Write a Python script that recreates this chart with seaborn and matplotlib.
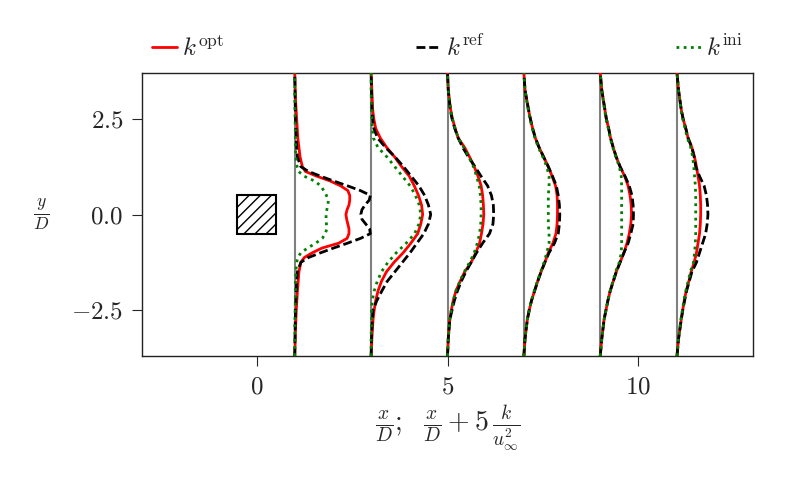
import matplotlib
matplotlib.use("Agg")
import matplotlib.pyplot as plt
import numpy as np
import pandas as pd
import seaborn as sns
from matplotlib.patches import Rectangle

# stations x/D where the k profiles are sampled
stations = [1, 3, 5, 7, 9, 11]

# y/D sample points (finer one for the first station just behind the cylinder)
y_near = [-3.7, -3.0, -2.5, -2.0, -1.75, -1.5, -1.25, -1.125, -1.0, -0.875, -0.75,
          -0.625, -0.5, -0.375, -0.25, -0.125, 0.0, 0.125, 0.25, 0.375, 0.5, 0.625,
          0.75, 0.875, 1.0, 1.125, 1.25, 1.5, 1.75, 2.0, 2.5, 3.0, 3.7]
y_far = [-3.7, -3.25, -2.75, -2.5, -2.25, -2.0, -1.75, -1.5, -1.25, -1.0, -0.75, -0.5,
         -0.25, 0.0, 0.25, 0.5, 0.75, 1.0, 1.25, 1.5, 1.75, 2.0, 2.25, 2.5, 2.75, 3.25, 3.7]

# 5 k / u_inf^2, one list per station
k_opt = {
    1: [0.0, 0.02, 0.04, 0.07, 0.09, 0.11, 0.16, 0.25, 0.46, 0.72, 1.15, 1.37, 1.42, 1.42,
        1.39, 1.36, 1.34, 1.37, 1.42, 1.44, 1.44, 1.39, 1.2, 0.93, 0.58, 0.28, 0.2, 0.14,
        0.11, 0.08, 0.05, 0.02, 0.0],
    3: [0.0, 0.02, 0.05, 0.08, 0.12, 0.18, 0.27, 0.4, 0.6, 0.84, 1.04, 1.22, 1.3, 1.35,
        1.32, 1.24, 1.13, 1.0, 0.8, 0.62, 0.41, 0.24, 0.12, 0.07, 0.04, 0.02, 0.0],
    5: [0.0, 0.02, 0.06, 0.1, 0.15, 0.22, 0.33, 0.45, 0.62, 0.74, 0.84, 0.89, 0.93, 0.95,
        0.94, 0.92, 0.88, 0.8, 0.7, 0.58, 0.45, 0.28, 0.2, 0.13, 0.08, 0.02, 0.0],
    7: [0.0, 0.03, 0.09, 0.14, 0.2, 0.28, 0.36, 0.45, 0.55, 0.64, 0.76, 0.84, 0.87, 0.88,
        0.88, 0.87, 0.83, 0.74, 0.64, 0.52, 0.4, 0.3, 0.23, 0.17, 0.12, 0.03, 0.0],
    9: [0.0, 0.04, 0.1, 0.15, 0.2, 0.26, 0.34, 0.42, 0.52, 0.62, 0.7, 0.76, 0.8, 0.82,
        0.81, 0.78, 0.73, 0.64, 0.52, 0.42, 0.34, 0.27, 0.22, 0.16, 0.12, 0.04, 0.0],
    11: [0.01, 0.05, 0.12, 0.16, 0.2, 0.25, 0.32, 0.38, 0.46, 0.52, 0.56, 0.6, 0.62, 0.63,
         0.63, 0.62, 0.6, 0.56, 0.52, 0.47, 0.4, 0.3, 0.24, 0.17, 0.12, 0.05, 0.01],
}
k_ref = {
    1: [0.0, 0.01, 0.02, 0.04, 0.05, 0.07, 0.16, 0.36, 0.68, 1.02, 1.38, 1.72, 1.98, 1.96,
        1.86, 1.76, 1.73, 1.76, 1.84, 1.95, 1.98, 1.72, 1.38, 1.02, 0.68, 0.36, 0.16, 0.07,
        0.05, 0.04, 0.02, 0.01, 0.0],
    3: [0.0, 0.01, 0.03, 0.05, 0.15, 0.28, 0.42, 0.62, 0.82, 1.02, 1.2, 1.38, 1.5, 1.56,
        1.5, 1.4, 1.25, 1.05, 0.85, 0.63, 0.38, 0.17, 0.07, 0.04, 0.02, 0.01, 0.0],
    5: [0.0, 0.02, 0.06, 0.12, 0.18, 0.26, 0.36, 0.48, 0.62, 0.76, 0.92, 1.1, 1.19, 1.21,
        1.2, 1.15, 1.05, 0.88, 0.72, 0.55, 0.4, 0.28, 0.19, 0.12, 0.07, 0.02, 0.0],
    7: [0.0, 0.03, 0.09, 0.14, 0.2, 0.28, 0.36, 0.45, 0.55, 0.66, 0.8, 0.9, 0.93, 0.94,
        0.93, 0.9, 0.85, 0.75, 0.64, 0.52, 0.4, 0.3, 0.23, 0.17, 0.12, 0.03, 0.0],
    9: [0.0, 0.04, 0.1, 0.15, 0.2, 0.26, 0.34, 0.42, 0.52, 0.62, 0.73, 0.8, 0.86, 0.87,
        0.86, 0.83, 0.76, 0.65, 0.52, 0.42, 0.34, 0.27, 0.22, 0.16, 0.12, 0.04, 0.0],
    11: [0.01, 0.05, 0.12, 0.16, 0.21, 0.26, 0.33, 0.4, 0.52, 0.6, 0.68, 0.76, 0.8, 0.82,
         0.81, 0.78, 0.72, 0.6, 0.5, 0.46, 0.4, 0.3, 0.24, 0.17, 0.12, 0.05, 0.01],
}
k_ini = {
    1: [0.0, 0.0, 0.01, 0.02, 0.02, 0.03, 0.05, 0.08, 0.16, 0.34, 0.55, 0.72, 0.8, 0.84,
        0.83, 0.82, 0.82, 0.84, 0.87, 0.88, 0.83, 0.76, 0.68, 0.52, 0.25, 0.1, 0.06, 0.03,
        0.02, 0.02, 0.01, 0.0, 0.0],
    3: [0.0, 0.0, 0.01, 0.01, 0.03, 0.08, 0.16, 0.27, 0.44, 0.66, 0.92, 1.14, 1.25, 1.3,
        1.26, 1.16, 1.02, 0.82, 0.62, 0.42, 0.18, 0.06, 0.03, 0.02, 0.01, 0.0, 0.0],
    5: [0.0, 0.02, 0.06, 0.1, 0.15, 0.22, 0.32, 0.44, 0.58, 0.7, 0.78, 0.84, 0.87, 0.88,
        0.88, 0.86, 0.83, 0.76, 0.68, 0.56, 0.43, 0.28, 0.2, 0.13, 0.08, 0.02, 0.0],
    7: [0.0, 0.03, 0.09, 0.14, 0.2, 0.27, 0.35, 0.44, 0.53, 0.6, 0.66, 0.66, 0.64, 0.64,
        0.64, 0.64, 0.66, 0.66, 0.6, 0.5, 0.38, 0.29, 0.22, 0.16, 0.11, 0.03, 0.0],
    9: [0.0, 0.04, 0.1, 0.15, 0.2, 0.26, 0.33, 0.4, 0.5, 0.55, 0.56, 0.56, 0.56, 0.56,
        0.56, 0.56, 0.56, 0.55, 0.5, 0.41, 0.33, 0.26, 0.21, 0.15, 0.11, 0.04, 0.0],
    11: [0.01, 0.05, 0.11, 0.15, 0.19, 0.24, 0.3, 0.36, 0.44, 0.47, 0.49, 0.5, 0.5, 0.5,
         0.5, 0.5, 0.49, 0.47, 0.45, 0.42, 0.37, 0.28, 0.22, 0.16, 0.11, 0.05, 0.01],
}

labels = [r'$k^{\mathrm{opt}}$', r'$k^{\mathrm{ref}}$', r'$k^{\mathrm{ini}}$']
colors = ['red', 'black', 'green']

rows = []
for lab, prof in zip(labels, [k_opt, k_ref, k_ini]):
    for st in stations:
        ys = y_near if st == 1 else y_far
        for y, k in zip(ys, prof[st]):
            rows.append({'case': lab, 'station': st, 'y': y, 'xpos': st + k})
df = pd.DataFrame(rows)

sns.set_style('ticks')
plt.rcParams['font.family'] = 'serif'
plt.rcParams['font.serif'] = ['cmr10', 'DejaVu Serif']
plt.rcParams['mathtext.fontset'] = 'cm'
plt.rcParams['axes.formatter.use_mathtext'] = True
plt.rcParams['font.size'] = 18

fig = plt.figure(figsize=(7.93, 4.9), dpi=100)
ax = fig.add_axes([142 / 793, 1 - 356 / 490, 611 / 793, 283 / 490])

for st in stations:
    ax.axvline(st, color='grey', lw=1.5, zorder=1)

sns.lineplot(data=df, x='xpos', y='y', hue='case', style='case', units='station',
             estimator=None, sort=False, hue_order=labels, style_order=labels,
             palette=dict(zip(labels, colors)),
             dashes={labels[0]: '', labels[1]: (3.2, 1.4), labels[2]: (1, 1.6)},
             lw=2, ax=ax, zorder=3)

ax.add_patch(Rectangle((-0.5, -0.5), 1, 1, fill=False, hatch='///',
                       edgecolor='black', lw=1.5, zorder=2))

ax.set_xlim(-3, 13)
ax.set_ylim(-3.7, 3.7)
ax.set_xticks([0, 5, 10])
ax.set_yticks([-2.5, 0, 2.5])
ax.tick_params(length=7.4, width=0.8, labelsize=18)
ax.tick_params(axis='x', pad=7)
ax.tick_params(axis='y', pad=6)
for sp in ax.spines.values():
    sp.set_linewidth(1.0)
    sp.set_color('#222222')

ax.set_xlabel(r'$\frac{x}{D};\ \ \frac{x}{D}+5\,\frac{k}{u_\infty^2}$', fontsize=20, labelpad=4)
ax.set_ylabel(r'$\frac{y}{D}$', fontsize=18, rotation=0, labelpad=22, va='center')

sns.move_legend(ax, 'lower left', bbox_to_anchor=(0.0, 1.008, 1, 0.2), mode='expand',
                ncol=3, frameon=False, title=None, fontsize=18,
                handlelength=1.0, handletextpad=0.2, borderaxespad=0.0)

fig.savefig('out.png', dpi=100)
